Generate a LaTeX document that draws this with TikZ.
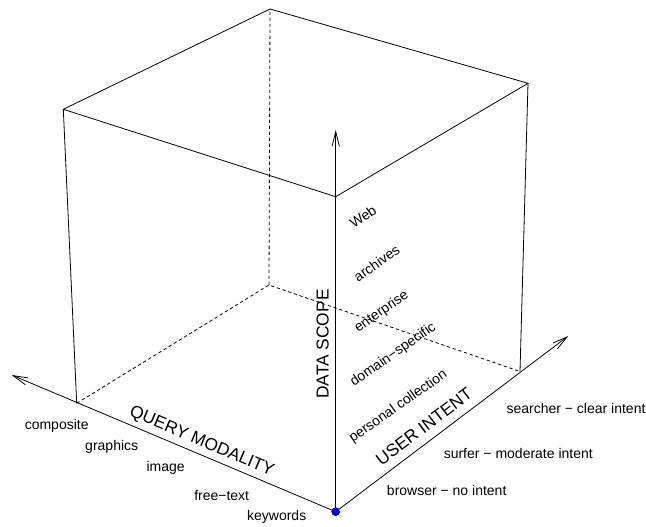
\documentclass[tikz,border=0pt]{standalone}
\usepackage{fontspec}
\setmainfont{Liberation Sans}
\usetikzlibrary{arrows.meta}

\begin{document}
\begin{tikzpicture}[x=0.75pt,y=-0.75pt,
        frame/.style={line width=0.6pt},
        backline/.style={line width=0.6pt,dash pattern=on 2.5pt off 2pt},
        axis/.style={line width=0.6pt,-{Straight Barb[length=11pt,width=5.5pt]}},
        lab/.style={font=\fontsize{10.5}{12}\selectfont,inner sep=0pt},
        biglab/.style={font=\fontsize{13}{15}\selectfont,inner sep=0pt}]
        \useasboundingbox (0,0) rectangle (646,527);
        \coordinate (o) at (335.7,511.7);
        \coordinate (lb) at (76.7,403.3);
        \coordinate (bb) at (269,285);
        \coordinate (rb) at (520,371.5);
        \coordinate (lt) at (63.3,109.3);
        \coordinate (bt) at (270,9);
        \coordinate (rt) at (528,83.3);
        \coordinate (ot) at (335.7,196.7);
        \coordinate (qend) at (11.7,375);
        \coordinate (uend) at (568.3,336);
        \coordinate (dend) at (335.7,130);

        \draw [frame] (lb) -- (lt) -- (bt) -- (rt) -- (ot) -- (lt);
        \draw [frame] (rb) -- (rt);
        \draw [backline] (lb) -- (bb) -- (rb);
        \draw [backline] (bb) -- (bt);
        \draw [axis] (o) -- (qend);
        \draw [axis] (o) -- (uend);
        \draw [axis] (o) -- (dend);
        \node (origin) [circle,fill=blue,draw=blue!50!black,line width=0.4pt,minimum size=6pt,inner sep=0pt] at (o) {};

        \node (qm) [biglab,rotate=-22.9] at (201.7,441.7) {QUERY MODALITY};
        \node (ui) [biglab,rotate=37.2] at (424,426.7) {USER INTENT};
        \node (ds) [biglab,rotate=90] at (322.7,344) {DATA SCOPE};

        \node (composite) [lab] at (56.7,425.7) {composite};
        \node (graphics) [lab] at (111.7,447.3) {graphics};
        \node (image) [lab] at (165.7,468.3) {image};
        \node (freetext) [lab] at (221.7,495.7) {free\textminus text};
        \node (keywords) [lab] at (276.7,516.7) {keywords};

        \node (searcher) [lab] at (576,408.3) {searcher \textminus\ clear intent};
        \node (surfer) [lab] at (518.3,453.3) {surfer \textminus\ moderate intent};
        \node (browser) [lab] at (446.7,490.7) {browser \textminus\ no intent};

        \node (personal) [lab,rotate=35] at (398.3,406.7) {personal collection};
        \node (domain) [lab,rotate=35] at (393.3,355) {domain\textminus specific};
        \node (enterprise) [lab,rotate=35] at (381.7,311.7) {enterprise};
        \node (archives) [lab,rotate=35] at (376.7,263.3) {archives};
        \node (web) [lab,rotate=35] at (363,216.7) {Web};
    \end{tikzpicture}
\end{document}
